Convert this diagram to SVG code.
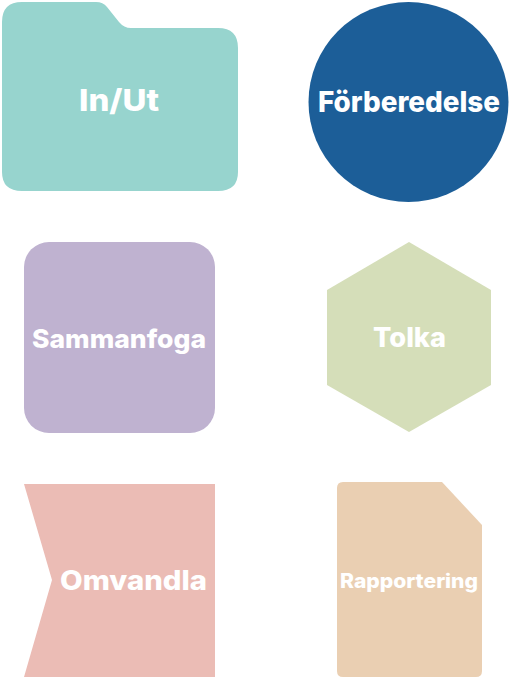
<svg xmlns="http://www.w3.org/2000/svg" width="512" height="679" viewBox="0 0 512 679">
<style>
.lbl{font-family:Inter,"Open Sans","Liberation Sans",sans-serif;font-weight:800;fill:#ffffff;text-anchor:middle}
</style>
<rect width="512" height="679" fill="#ffffff"/>
<g id="inut">
<path d="M2,22 Q2,2 22,2 L96,2 Q103,2 107,7 L119,22 Q124,28 131,28 L218,28 Q238,28 238,48 L238,172 Q238,191 218,191 L22,191 Q2,191 2,172 Z" fill="#97D4CE"/>
<text class="lbl" x="119" y="111" font-size="30" textLength="80" lengthAdjust="spacingAndGlyphs">In/Ut</text>
</g>
<g id="forberedelse">
<circle cx="408.5" cy="102" r="100" fill="#1C5E98"/>
<text class="lbl" x="409" y="112" font-size="29" textLength="182" lengthAdjust="spacingAndGlyphs">Förberedelse</text>
</g>
<g id="sammanfoga">
<rect x="24" y="242" width="191" height="191" rx="25" fill="#BFB2D0"/>
<text class="lbl" x="119" y="348" font-size="26" textLength="174" lengthAdjust="spacingAndGlyphs">Sammanfoga</text>
</g>
<g id="tolka">
<polygon points="409,242 491,290 491,385 409,432 327,385 327,290" fill="#D5DEB9"/>
<text class="lbl" x="409.5" y="347" font-size="27" textLength="73" lengthAdjust="spacingAndGlyphs">Tolka</text>
</g>
<g id="omvandla">
<polygon points="24,484 215,484 215,677 24,677 52,580" fill="#EBBCB5"/>
<text class="lbl" x="133.5" y="590" font-size="27" textLength="147" lengthAdjust="spacingAndGlyphs">Omvandla</text>
</g>
<g id="rapportering">
<path d="M343,482 L442,482 L482,525 L482,671 Q482,677 476,677 L343,677 Q337,677 337,671 L337,488 Q337,482 343,482 Z" fill="#EACFB2"/>
<text class="lbl" x="409" y="588" font-size="20" textLength="138" lengthAdjust="spacingAndGlyphs">Rapportering</text>
</g>
<g id="connectors"/>
</svg>
